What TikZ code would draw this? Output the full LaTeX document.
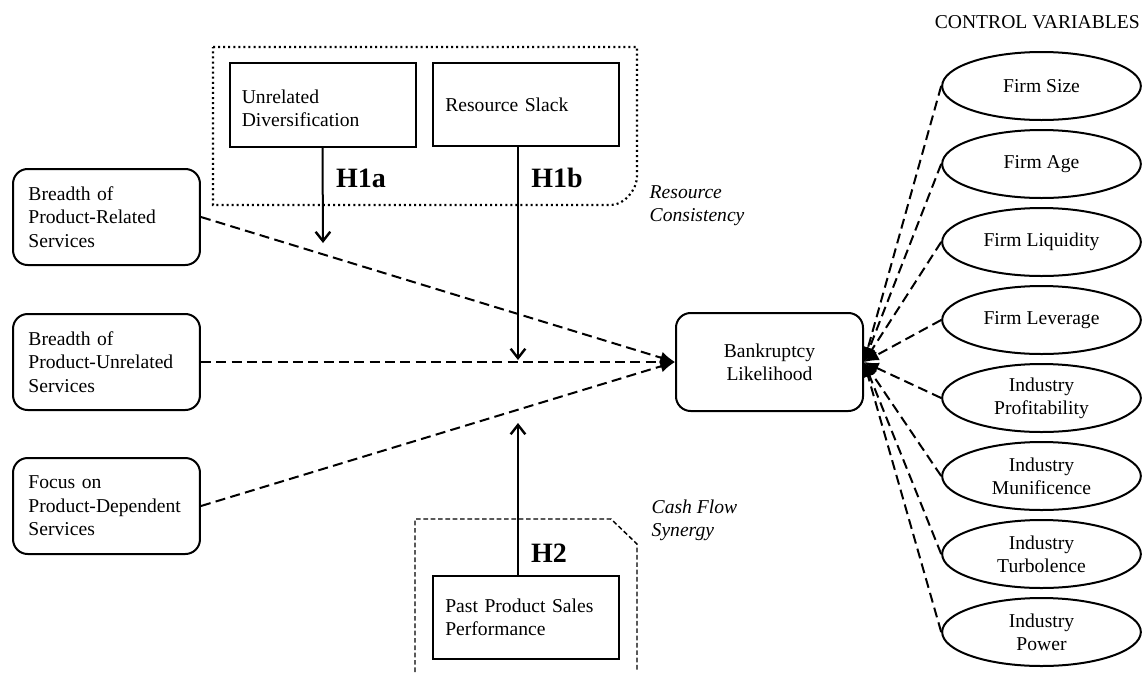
\documentclass[tikz,border=0pt]{standalone}
\usepackage{fontspec}
\setmainfont{Liberation Serif}
\usetikzlibrary{arrows.meta,shapes.geometric}
\begin{document}
\begin{tikzpicture}[x=0.75pt,y=-0.75pt,
  every node/.style={font=\fontsize{14.7}{17.5}\selectfont},
  lbox/.style={draw,line width=1.5pt,rounded corners=11pt,text width=117pt,inner xsep=11.6pt,inner ysep=0pt,minimum height=72pt,align=left},
  sqbox/.style={draw,line width=1.5pt,text width=121pt,inner xsep=9.25pt,inner ysep=0pt,minimum height=62.5pt,align=left},
  bankbox/.style={draw,line width=1.5pt,rounded corners=11pt,minimum width=140.25pt,minimum height=73.5pt,align=center},
  ctrl/.style={ellipse,draw,line width=1.5pt,minimum width=149pt,minimum height=51pt,inner sep=0pt,align=center},
  dconn/.style={line width=1.5pt,dash pattern=on 7.5pt off 4pt,-{Latex[length=11pt,width=9pt]}},
  varrow/.style={line width=1.5pt,-{Straight Barb[length=7pt,width=11pt,line width=1.8pt]}},
  hlabel/.style={font=\fontsize{21}{25}\selectfont\bfseries},
  itlabel/.style={font=\fontsize{14.7}{17.5}\selectfont\itshape,align=left,anchor=west}]
\useasboundingbox (0,0) rectangle (1142,672);

% regions
\draw[line width=1.6pt,dash pattern=on 1.5pt off 2.3pt]
  (213,47) -- (637,47) -- (637,176) .. controls (637,190) and (624,205) .. (611,205) -- (213,205) -- cycle;
\draw[line width=1.1pt,dash pattern=on 3.5pt off 2pt]
  (415,672) -- (415,519) -- (611,519) -- (637,544) -- (637,672);

% nodes
\node[lbox] (b1) at (106.5,217) {Breadth of\\Product-Related\\Services};
\node[lbox] (b2) at (106.5,362) {Breadth of\\Product-Unrelated\\Services};
\node[lbox] (b3) at (106.5,506) {Focus on\\Product-Dependent\\Services};

\node[sqbox] (unrel) at (322.5,105) {\rule{0pt}{15pt}Unrelated\\Diversification};
\node[sqbox] (slack) at (526,104.5) {Resource Slack};
\node[sqbox] (past) at (526,617.5) {Past Product Sales\\Performance};

\node[bankbox] (bank) at (769.5,362) {Bankruptcy\\Likelihood};

\node[anchor=east,inner sep=0pt] (cv) at (1140,22) {CONTROL VARIABLES};
\node[ctrl] (e1) at (1041.5,86) {Firm Size};
\node[ctrl] (e2) at (1041.5,164) {Firm Age};
\node[ctrl] (e3) at (1041.5,242) {Firm Liquidity};
\node[ctrl] (e4) at (1041.5,320) {Firm Leverage};
\node[ctrl] (e5) at (1041.5,398) {Industry\\Profitability};
\node[ctrl] (e6) at (1041.5,476) {Industry\\Munificence};
\node[ctrl] (e7) at (1041.5,554) {Industry\\Turbolence};
\node[ctrl] (e8) at (1041.5,632) {Industry\\Power};

\node[hlabel] (h1a) at (361,178) {H1a};
\node[hlabel] (h1b) at (557,178) {H1b};
\node[hlabel] (h2) at (549,553) {H2};
\node[itlabel] (rc) at (645,206) {Resource\\Consistency};
\node[itlabel] (cfs) at (647,520) {Cash Flow\\Synergy};

\coordinate (h1aend) at (323,243);
\coordinate (h1bend) at (518,360);
\coordinate (h2end) at (518,423);

% connectors
\draw[dconn] (b1.east) -- (bank.west);
\draw[dconn] (b2.east) -- (bank.west);
\draw[dconn] (b3.east) -- (bank.west);
\foreach \n in {e1,e2,e3,e4,e5,e6,e7,e8}
  \draw[dconn] (\n.west) -- (bank.east);

\draw[varrow] (unrel.south) -- (h1aend);
\draw[varrow] ([xshift=-6pt]slack.south) -- (h1bend);
\draw[varrow] ([xshift=-6pt]past.north) -- (h2end);
\end{tikzpicture}
\end{document}
